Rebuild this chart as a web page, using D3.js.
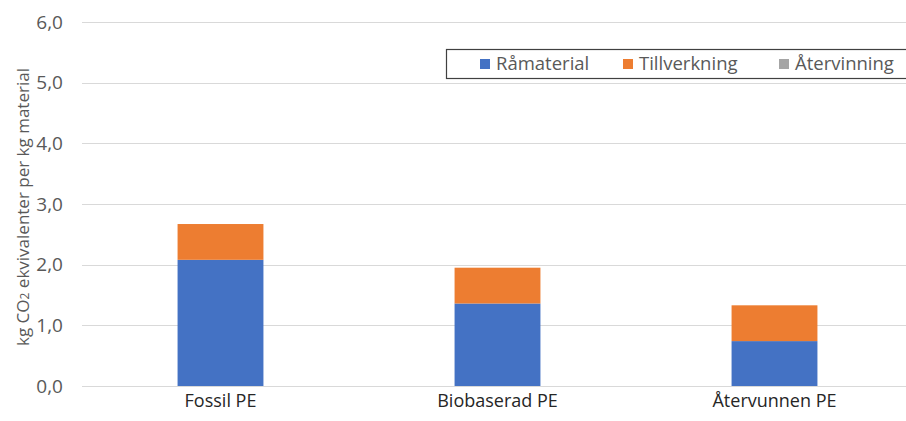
<!DOCTYPE html>
<html><head><meta charset="utf-8">
<script src="https://cdn.jsdelivr.net/npm/d3@7"></script>
<style>body{margin:0;background:#fff;}svg{display:block;}</style>
</head><body>
<svg id="c" width="906" height="421"></svg>
<script>
const categories = ["Fossil PE", "Biobaserad PE", "Återvunnen PE"];
const seriesNames = ["Råmaterial", "Tillverkning", "Återvinning"];
const ramaterial = [2.08, 1.36, 0.74];
const tillverkning = [0.59, 0.59, 0.59];
const atervinning = [0, 0, 0];
const yTicks = [0, 1, 2, 3, 4, 5, 6];
const colors = ["#4472C4", "#ED7D31", "#A5A5A5"];

const font = "Open Sans, Calibri, Carlito, sans-serif";
const svg = d3.select("#c");
const x = d3.scaleBand().domain(categories).range([82, 913]).paddingInner(0.69).paddingOuter(0.345);
const y = d3.scaleLinear().domain([0, 6]).range([386, 22]);

const rows = categories.map((c, i) => ({cat: c, "Råmaterial": ramaterial[i], "Tillverkning": tillverkning[i], "Återvinning": atervinning[i]}));
const stack = d3.stack().keys(seriesNames)(rows);

// gridlines
svg.append("g").selectAll("line").data(yTicks).join("line")
  .attr("x1", 82).attr("x2", 906)
  .attr("y1", d => Math.round(y(d)) + 0.5).attr("y2", d => Math.round(y(d)) + 0.5)
  .attr("stroke", "#d9d9d9").attr("stroke-width", 1);

// y tick labels
svg.append("g").selectAll("text").data(yTicks).join("text")
  .attr("x", 63).attr("y", d => y(d)).attr("dy", "0.35em")
  .attr("text-anchor", "end").attr("font-family", font).attr("font-size", 19).attr("fill", "#595959")
  .text(d => d3.format(".1f")(d).replace(".", ","));

// bars
svg.append("g").selectAll("g").data(stack).join("g")
  .attr("fill", (d, i) => colors[i])
  .selectAll("rect").data(d => d).join("rect")
  .attr("x", d => x(d.data.cat)).attr("width", x.bandwidth())
  .attr("y", d => y(d[1])).attr("height", d => y(d[0]) - y(d[1]));

// x labels
svg.append("g").selectAll("text").data(categories).join("text")
  .attr("x", d => x(d) + x.bandwidth() / 2).attr("y", 401).attr("dy", "0.35em")
  .attr("text-anchor", "middle").attr("font-family", font).attr("font-size", 18).attr("fill", "#262626")
  .text(d => d);

// y axis title
const yt = svg.append("text").attr("transform", "translate(23,207) rotate(-90)").attr("dy", "0.35em")
  .attr("text-anchor", "middle").attr("font-family", font).attr("font-size", 17).attr("fill", "#595959");
yt.append("tspan").text("kg CO");
yt.append("tspan").attr("font-size", 12).text("2");
yt.append("tspan").text(" ekvivalenter per kg material");

// legend
svg.append("rect").attr("x", 446.5).attr("y", 49.5).attr("width", 470).attr("height", 29)
  .attr("fill", "#fff").attr("stroke", "#404040").attr("stroke-width", 1.2);
const legX = [480, 623, 779];
const lg = svg.append("g").selectAll("g").data(seriesNames).join("g")
  .attr("transform", (d, i) => `translate(${legX[i]},64)`);
lg.append("rect").attr("x", 0).attr("y", -5).attr("width", 10).attr("height", 10).attr("fill", (d, i) => colors[i]);
lg.append("text").attr("x", 16).attr("y", 0).attr("dy", "0.35em")
  .attr("font-family", font).attr("font-size", 18.5).attr("fill", "#595959").text(d => d);
</script>
</body></html>
